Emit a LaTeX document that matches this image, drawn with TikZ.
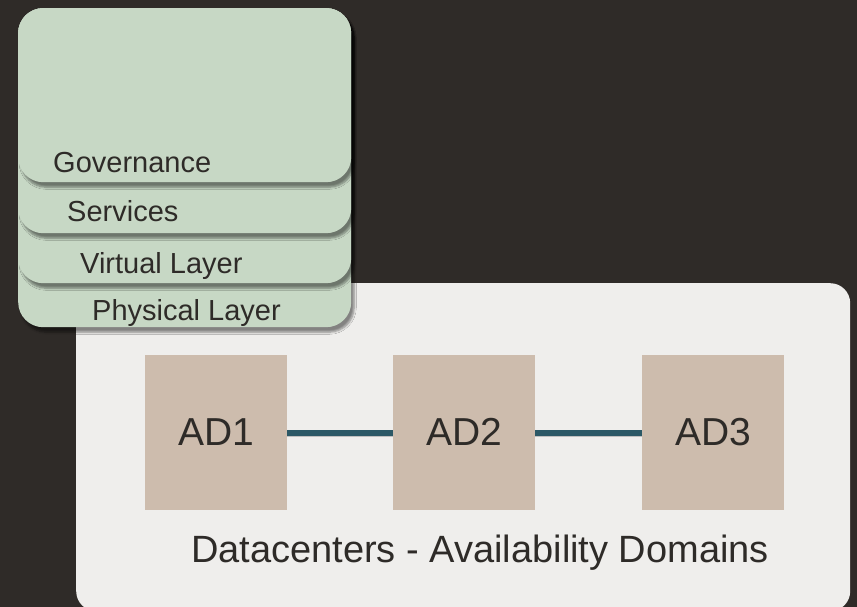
\documentclass[tikz,border=0pt]{standalone}
\usepackage{fontspec}
\setmainfont{Liberation Sans}
\usetikzlibrary{shadows.blur}
\definecolor{bgdark}{HTML}{2F2B28}
\definecolor{panelgray}{HTML}{EFEEEC}
\definecolor{adtan}{HTML}{CDBCAD}
\definecolor{layergreen}{HTML}{C7D8C5}
\definecolor{linkteal}{HTML}{2B5866}
\definecolor{inkdark}{HTML}{2E2B28}
\tikzset{
  card/.style={rectangle, rounded corners=25pt, fill=layergreen, draw=none,
    minimum width=333pt, anchor=north west, inner sep=0pt,
    blur shadow={shadow xshift=3pt, shadow yshift=-5pt, shadow blur steps=6, shadow opacity=45}},
  cardlabel/.style={anchor=base west, inner sep=0pt, text=inkdark,
    font=\fontsize{29}{34}\selectfont},
  adbox/.style={rectangle, fill=adtan, draw=none, minimum width=142pt,
    minimum height=155pt, inner sep=0pt, text=inkdark,
    font=\fontsize{39}{46}\selectfont},
  link/.style={draw=linkteal, line width=6pt},
  linkshade/.style={draw=black!25, line width=1.5pt}
}
\begin{document}
\begin{tikzpicture}[x=1pt,y=-1pt]
  \useasboundingbox (0,0) rectangle (857,607);
  \fill[bgdark] (0,0) rectangle (857,607);

  % datacenter panel
  \node[rectangle, rounded corners=20pt, fill=panelgray, draw=none,
        minimum width=774pt, minimum height=328pt, anchor=north west,
        inner sep=0pt] (panel) at (76,283) {};

  % availability domains
  \node[adbox] (ad1) at (216,432) {AD1};
  \node[adbox] (ad2) at (464,432) {AD2};
  \node[adbox] (ad3) at (713,432) {AD3};
  \draw[linkshade] ([yshift=-4pt]ad1.east) -- ([yshift=-4pt]ad2.west);
  \draw[linkshade] ([yshift=-4pt]ad2.east) -- ([yshift=-4pt]ad3.west);
  \draw[link] ([yshift=-1pt]ad1.east) -- ([yshift=-1pt]ad2.west);
  \draw[link] ([yshift=-1pt]ad2.east) -- ([yshift=-1pt]ad3.west);

  \node[anchor=base, inner sep=0pt, text=inkdark,
        font=\fontsize{38}{45}\selectfont] (dclabel) at (480,562)
        {Datacenters - Availability Domains};

  % stacked layer cards, lowest first
  \node[card, minimum height=319pt] (phys) at (18,8) {};
  \node[card, minimum height=275pt] (virt) at (18,8) {};
  \node[card, minimum height=225pt] (serv) at (18,8) {};
  \node[card, minimum height=174pt] (gov)  at (18,8) {};

  \node[cardlabel] (physlabel) at (92,320) {Physical Layer};
  \node[cardlabel] (virtlabel) at (80,273) {Virtual Layer};
  \node[cardlabel] (servlabel) at (67,222) {Services};
  \node[cardlabel] (govlabel)  at (53,172) {Governance};
\end{tikzpicture}
\end{document}
